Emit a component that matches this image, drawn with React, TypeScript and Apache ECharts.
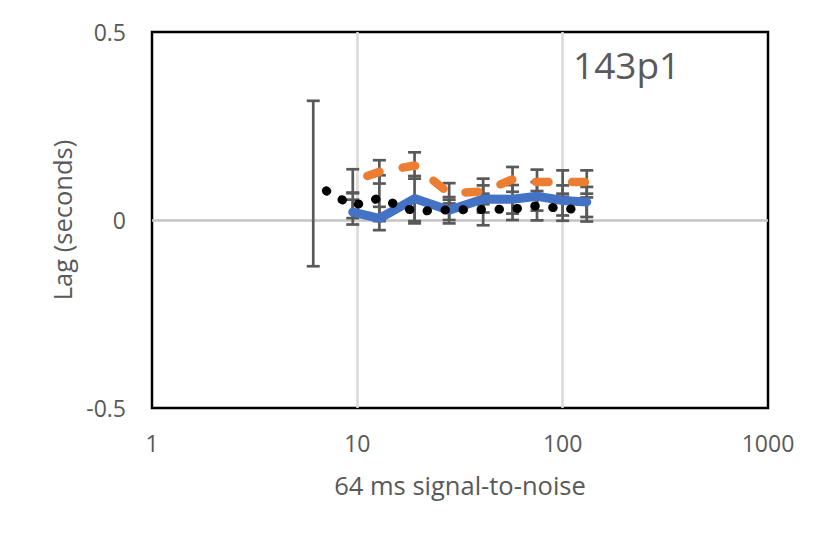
import React, { useEffect, useRef } from "react";
import * as echarts from "echarts";

// ---- data ----
const snrX = [9.5, 12.8, 19, 28, 41, 57, 75, 100, 131];
const blueLag = [0.021, 0.004, 0.057, 0.026, 0.056, 0.055, 0.063, 0.052, 0.048];
const blueErr = [0.033, 0.031, 0.06, 0.035, 0.036, 0.038, 0.038, 0.04, 0.04];
const orangeLag = [0.104, 0.128, 0.145, 0.071, 0.076, 0.108, 0.101, 0.101, 0.101];
const orangeErr = [0.031, 0.031, 0.035, 0.027, 0.034, 0.033, 0.033, 0.031, 0.031];
const blackX = [6.1, 9.5, 12.8, 19, 28, 41, 57, 75, 100, 131];
const blackLag = [0.097, 0.038, 0.058, 0.023, 0.027, 0.028, 0.029, 0.038, 0.03, 0.028];
const blackErr = [0.22, 0.033, 0.061, 0.032, 0.027, 0.042, 0.029, 0.039, 0.032, 0.032];
const xTickLabels = ["1", "10", "100", "1000"];
const panelLabel = "143p1";
const xTitle = "64 ms signal-to-noise";
const yTitle = "Lag (seconds)";

const FONT = "'Open Sans', 'Noto Sans', sans-serif";
const GREY_TEXT = "#595959";

function pairs(xs: number[], ys: number[]) {
  return xs.map((x, i) => [x, ys[i]]);
}
function errRows(xs: number[], ys: number[], es: number[]) {
  return xs.map((x, i) => [x, ys[i] - es[i], ys[i] + es[i]]);
}

const renderErr = (params: any, api: any) => {
  const x = api.value(0);
  const lo = api.value(1);
  const hi = api.value(2);
  const top = api.coord([x, hi]);
  const bot = api.coord([x, lo]);
  const hw = 6.5;
  const st = { stroke: "#595959", lineWidth: 2.7 };
  return {
    type: "group",
    children: [
      { type: "line", shape: { x1: top[0], y1: top[1], x2: bot[0], y2: bot[1] }, style: st },
      { type: "line", shape: { x1: top[0] - hw, y1: top[1], x2: top[0] + hw, y2: top[1] }, style: st },
      { type: "line", shape: { x1: bot[0] - hw, y1: bot[1], x2: bot[0] + hw, y2: bot[1] }, style: st },
    ],
  };
};

export default function App() {
  const ref = useRef<HTMLDivElement>(null);
  useEffect(() => {
    if (!ref.current) return;
    const chart = echarts.init(ref.current, undefined, { renderer: "svg" });
    const errData = [
      ...errRows(snrX, blueLag, blueErr),
      ...errRows(snrX, orangeLag, orangeErr),
      ...errRows(blackX, blackLag, blackErr),
    ];
    chart.setOption({
      animation: false,
      backgroundColor: "#ffffff",
      grid: {
        left: 152,
        right: 62,
        top: 32,
        bottom: 134,
        show: true,
        borderColor: "#000000",
        borderWidth: 2.5,
        backgroundColor: "transparent",
      },
      xAxis: {
        type: "log",
        logBase: 10,
        min: 1,
        max: 1000,
        axisLine: { show: false },
        axisTick: { show: false },
        splitLine: {
          show: true,
          showMinLine: false,
          showMaxLine: false,
          lineStyle: { color: "#d9d9d9", width: 2.5 },
        },
        axisLabel: {
          margin: 23,
          fontSize: 23,
          fontFamily: FONT,
          color: GREY_TEXT,
          formatter: (v: number) => xTickLabels[Math.round(Math.log10(v))],
        },
        name: xTitle,
        nameLocation: "middle",
        nameGap: 64,
        nameTextStyle: { fontSize: 25.5, fontFamily: FONT, color: GREY_TEXT },
      },
      yAxis: {
        type: "value",
        min: -0.5,
        max: 0.5,
        interval: 0.5,
        axisLine: { show: false },
        axisTick: { show: false },
        splitLine: {
          show: true,
          showMinLine: false,
          showMaxLine: false,
          lineStyle: { color: "#c4c4c4", width: 2.5 },
        },
        axisLabel: {
          margin: 26,
          fontSize: 23,
          fontFamily: FONT,
          color: GREY_TEXT,
        },
        name: yTitle,
        nameLocation: "middle",
        nameGap: 77,
        nameRotate: 90,
        nameTextStyle: { fontSize: 25.5, fontFamily: FONT, color: GREY_TEXT },
      },
      graphic: [
        {
          type: "text",
          left: 573,
          top: 46,
          style: { text: panelLabel, fontSize: 37, fontFamily: FONT, fill: GREY_TEXT },
        },
      ],
      series: [
        {
          type: "custom",
          name: "err",
          renderItem: renderErr,
          encode: { x: 0, y: [1, 2] },
          data: errData,
          z: 1,
          silent: true,
        },
        {
          type: "line",
          name: "blue",
          data: pairs(snrX, blueLag),
          showSymbol: false,
          symbol: "none",
          z: 2,
          lineStyle: { color: "#4472C4", width: 9, cap: "round", join: "round" },
        },
        {
          type: "line",
          name: "orange",
          data: pairs(snrX, orangeLag),
          showSymbol: false,
          symbol: "none",
          z: 3,
          lineStyle: {
            color: "#ED7D31",
            width: 8.5,
            cap: "round",
            join: "round",
            type: [12.8, 23.6],
            dashOffset: 20.6,
          },
        },
        {
          type: "line",
          name: "black",
          data: pairs(blackX, blackLag),
          showSymbol: false,
          symbol: "none",
          z: 4,
          lineStyle: {
            color: "#000000",
            width: 9,
            cap: "round",
            join: "round",
            type: [0.5, 17.5],
            dashOffset: 3.2,
          },
        },
      ],
    });
    return () => chart.dispose();
  }, []);
  return (
    <div
      ref={ref}
      style={{ position: "absolute", left: 0, top: 0, width: 830, height: 542, background: "#fff" }}
    />
  );
}
